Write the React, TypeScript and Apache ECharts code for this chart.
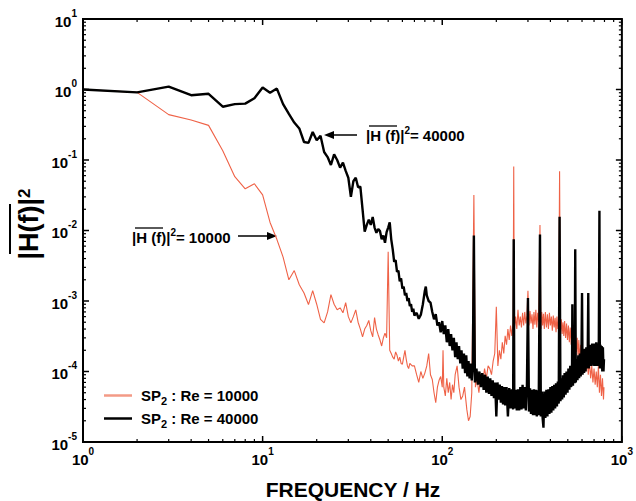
import React, { useEffect, useRef } from "react";
import * as echarts from "echarts";

// Spectrum |H(f)|^2 for Re = 10000 (red) : [frequency Hz, value]
const re10000: [number, number][] = [
  [1, 1.0], [2, 0.91], [3, 0.44], [4, 0.37], [5, 0.31], [6, 0.135], [7, 0.058], [8, 0.039], [9, 0.046], [10, 0.032],
  [11, 0.013], [12, 0.0075], [13, 0.0042], [14, 0.002], [15, 0.0027], [16, 0.0017], [17, 0.0013], [18, 0.00089], [19, 0.0014], [20, 0.0009],
  [21, 0.00055], [22, 0.00049], [23, 0.0007], [24, 0.00123], [25, 0.0009], [26, 0.00075], [27, 0.0008], [28, 0.00068], [29, 0.00095], [30, 0.0006],
  [31, 0.00049], [32, 0.0006], [33, 0.00075], [34, 0.0005], [35, 0.0004], [36, 0.00031], [37, 0.0004], [38, 0.00045], [39, 0.00053], [40, 0.00038],
  [41, 0.00031], [42, 0.00058], [43, 0.0004], [44, 0.00033], [45, 0.00028], [46, 0.00023], [47, 0.0003], [48, 0.00035], [49, 0.0003], [50, 0.005],
  [51, 0.0002], [52, 0.00018], [53, 0.00016], [54, 0.00015], [55, 0.00019], [56, 0.00017], [57, 0.00014], [58, 0.00016], [59, 0.00013], [60, 0.000127],
  [61, 0.00016], [62, 0.0002], [63, 0.00015], [64, 0.00012], [65, 0.00011], [66, 0.00013], [68, 0.00012], [70, 0.00012], [72, 0.00009], [74, 0.00007],
  [76, 0.0001], [78, 0.00008], [80, 0.000095], [82, 0.00012], [84, 0.00018], [86, 0.00009], [88, 0.000077], [90, 0.00005], [92, 0.000036], [94, 0.00006],
  [96, 0.000075], [98, 0.000085], [100, 0.00006], [101, 0.0002], [102, 0.00006], [104, 0.000045], [106, 0.00008], [108, 0.00005], [110, 0.00007], [112, 0.00004],
  [114, 0.000065], [116, 0.00005], [118, 0.00009], [121, 0.00012], [124, 0.00006], [127, 0.00004], [130, 0.000045], [133, 0.00006], [137, 0.000029], [140, 0.00002],
  [143, 0.000023], [146, 0.00005], [150, 0.032], [153, 0.00006], [156, 0.00008], [160, 0.00005], [164, 0.00009], [168, 0.00007], [172, 0.00011], [176, 0.00008],
  [180, 0.00012], [184, 0.00011], [188, 0.00009], [192, 0.00014], [196, 0.00018], [200, 0.00083], [204, 0.00012], [208, 0.0002], [212, 0.00015], [216, 0.00026],
  [220, 0.00018], [224, 0.00032], [228, 0.00024], [232, 0.0004], [236, 0.00028], [240, 0.00045], [244, 0.00032], [248, 0.0005], [250, 0.081], [252, 0.00038],
  [256, 0.0006], [260, 0.0004], [264, 0.00075], [268, 0.00045], [272, 0.0006], [276, 0.00042], [280, 0.00068], [284, 0.00045], [288, 0.0007], [292, 0.00048],
  [296, 0.00062], [300, 0.0014], [304, 0.00045], [308, 0.00072], [312, 0.00048], [316, 0.00065], [320, 0.0004], [324, 0.0007], [328, 0.00046], [332, 0.00075],
  [336, 0.00042], [340, 0.00068], [344, 0.0005], [350, 0.012], [354, 0.0004], [358, 0.0007], [362, 0.00045], [366, 0.00066], [370, 0.0004], [375, 0.0007],
  [380, 0.00042], [385, 0.00065], [390, 0.0004], [395, 0.00068], [400, 0.00045], [405, 0.0006], [410, 0.00038], [415, 0.00062], [420, 0.00042], [425, 0.00058],
  [430, 0.00036], [435, 0.0006], [440, 0.0004], [445, 0.00055], [450, 0.069], [455, 0.00035], [460, 0.00055], [465, 0.00034], [470, 0.0005], [475, 0.00032],
  [480, 0.00052], [486, 0.0003], [492, 0.00048], [498, 0.00028], [504, 0.00045], [510, 0.00026], [516, 0.00042], [522, 0.00024], [528, 0.0004], [534, 0.00022],
  [540, 0.00036], [546, 0.0002], [552, 0.00033], [558, 0.00019], [564, 0.0003], [570, 0.00017], [576, 0.00028], [582, 0.00015], [590, 0.00024], [598, 0.00013],
  [606, 0.0002], [614, 0.00011], [622, 0.00018], [630, 0.0001], [640, 0.00016], [650, 0.00009], [660, 0.00014], [670, 0.00008], [680, 0.00012], [690, 0.00007],
  [700, 0.00011], [710, 0.000065], [720, 0.0001], [730, 0.00006], [740, 0.00012], [750, 0.00005], [760, 0.00009], [770, 0.000045], [780, 0.00008], [790, 0.00004],
  [795, 0.00006],
];

// Spectrum |H(f)|^2 for Re = 40000 (black) : [frequency Hz, value]
const re40000: [number, number][] = [
  [1, 1.0], [2, 0.91], [3, 1.1], [4, 0.83], [5, 0.87], [6, 0.57], [7, 0.62], [8, 0.63], [9, 0.75], [10, 1.07],
  [11, 0.9], [12, 1.03], [13, 0.62], [14, 0.45], [15, 0.34], [16, 0.28], [17, 0.18], [18, 0.175], [19, 0.25], [20, 0.19],
  [21, 0.22], [22, 0.13], [23, 0.11], [24, 0.085], [25, 0.12], [26, 0.1], [27, 0.078], [28, 0.092], [29, 0.07], [30, 0.056],
  [31, 0.03], [32, 0.05], [33, 0.056], [34, 0.041], [35, 0.042], [36, 0.02], [37, 0.0096], [38, 0.012], [39, 0.0143], [40, 0.012],
  [41, 0.0155], [42, 0.011], [43, 0.0093], [44, 0.0105], [45, 0.0098], [46, 0.0075], [47, 0.0085], [48, 0.0067], [49, 0.0095], [50, 0.011],
  [51, 0.013], [52, 0.0075], [53, 0.0054], [54, 0.0036], [55, 0.0038], [56, 0.0026], [57, 0.0027], [58, 0.0019], [59, 0.0021], [60, 0.0015],
  [61, 0.0016], [62, 0.0012], [63, 0.0013], [64, 0.001], [65, 0.0011], [66, 0.00085], [67, 0.0009], [68, 0.0007], [69, 0.00078], [70, 0.00062],
  [72, 0.00068], [74, 0.00056], [76, 0.00064], [78, 0.0009], [80, 0.0014], [81, 0.0016], [82, 0.0012], [84, 0.001], [86, 0.00095], [88, 0.0007],
  [90, 0.00055], [92, 0.00065], [94, 0.00045], [96, 0.0005], [98, 0.00036], [100, 0.00052], [102, 0.00034], [104, 0.00045], [106, 0.00026], [108, 0.0004],
  [110, 0.00023], [112, 0.00034], [114, 0.0002], [116, 0.0003], [118, 0.00016], [120, 0.00026], [122, 0.00015], [124, 0.00023], [126, 0.00013], [128, 0.0002],
  [130, 0.00011], [132, 0.00018], [134, 0.000095], [136, 0.00017], [138, 0.000085], [140, 0.00014], [142, 0.00008], [144, 0.00013], [146, 0.000075], [148, 0.00012],
  [150, 0.0085], [152, 0.00007], [155, 0.00011], [158, 0.000065], [161, 0.0001], [164, 0.00006], [167, 0.000095], [170, 0.000055], [173, 0.00009], [176, 0.00005],
  [179, 0.000085], [182, 0.000048], [185, 0.00008], [188, 0.000045], [191, 0.000075], [194, 0.000042], [197, 0.00007], [200, 0.000023], [203, 0.00007], [206, 0.00004],
  [209, 0.000065], [212, 0.000036], [215, 0.000062], [218, 0.000034], [221, 0.00006], [224, 0.000033], [228, 0.00006], [232, 0.000023], [236, 0.000058], [240, 0.00003],
  [244, 0.000056], [248, 0.000029], [250, 0.0075], [252, 0.00003], [256, 0.000055], [260, 0.000028], [264, 0.000056], [268, 0.000028], [272, 0.00006], [276, 0.000029],
  [280, 0.000065], [284, 0.00003], [288, 0.00006], [292, 0.000028], [296, 0.000062], [300, 0.0011], [304, 0.000027], [308, 0.000058], [312, 0.000025], [316, 0.000055],
  [320, 0.000024], [324, 0.000056], [328, 0.000024], [332, 0.000055], [336, 0.000023], [340, 0.000054], [344, 0.000024], [350, 0.0088], [354, 0.000023], [358, 0.000052],
  [362, 0.000022], [366, 0.000016], [370, 0.000052], [375, 0.000022], [380, 0.000055], [385, 0.000023], [390, 0.000056], [395, 0.000025], [400, 0.00006], [405, 0.000026],
  [410, 0.000062], [415, 0.000028], [420, 0.000065], [425, 0.00003], [430, 0.000068], [435, 0.000032], [440, 0.000072], [445, 0.000035], [450, 0.0157], [455, 0.000038],
  [460, 0.00008], [465, 0.00004], [470, 0.000088], [475, 0.000043], [480, 0.000095], [486, 0.000047], [492, 0.0001], [498, 0.00005], [504, 0.00011], [510, 0.000055],
  [516, 0.00012], [522, 0.00006], [528, 0.00013], [530, 0.0009], [534, 0.000063], [540, 0.00014], [546, 0.000068], [550, 0.0054], [554, 0.00007], [560, 0.00015],
  [566, 0.000075], [572, 0.00017], [578, 0.00008], [584, 0.00018], [590, 0.000085], [596, 0.0002], [600, 0.0013], [604, 0.00009], [610, 0.0002], [616, 0.000095],
  [622, 0.00021], [628, 0.0001], [634, 0.00022], [640, 0.00011], [646, 0.00023], [650, 0.0013], [654, 0.00011], [660, 0.00024], [666, 0.00012], [672, 0.00024],
  [678, 0.00012], [684, 0.00025], [690, 0.000125], [696, 0.00025], [702, 0.00012], [708, 0.00025], [714, 0.00012], [720, 0.00026], [726, 0.00012], [732, 0.00025],
  [738, 0.00012], [744, 0.00024], [750, 0.019], [754, 0.00011], [760, 0.00024], [766, 0.00011], [772, 0.00023], [778, 0.0001], [784, 0.00022], [790, 0.0001],
  [795, 0.00015],
];

const xMajorTicks = [1, 10, 100, 1000];
const xMinorTicks = [2, 3, 4, 5, 6, 7, 8, 9, 20, 30, 40, 50, 60, 70, 80, 90, 200, 300, 400, 500, 600, 700, 800, 900];
const yMajorTicks = [1e-5, 1e-4, 1e-3, 1e-2, 1e-1, 1, 10];
const yMinorTicks = [
  2e-5, 3e-5, 4e-5, 5e-5, 6e-5, 7e-5, 8e-5, 9e-5,
  2e-4, 3e-4, 4e-4, 5e-4, 6e-4, 7e-4, 8e-4, 9e-4,
  2e-3, 3e-3, 4e-3, 5e-3, 6e-3, 7e-3, 8e-3, 9e-3,
  2e-2, 3e-2, 4e-2, 5e-2, 6e-2, 7e-2, 8e-2, 9e-2,
  0.2, 0.3, 0.4, 0.5, 0.6, 0.7, 0.8, 0.9,
  2, 3, 4, 5, 6, 7, 8, 9,
];

const NAME_LOW = "SP2 : Re = 10000";
const NAME_HIGH = "SP2 : Re = 40000";
const FONT = "'Liberation Sans', Arial, sans-serif";
const RED = "#ef6247";

function tickSeries(vals: number[], axis: "x" | "y", len: number, width: number) {
  return {
    type: "custom",
    silent: true,
    clip: false,
    z: 10,
    data: vals.map((v) => (axis === "x" ? [v, 1] : [1, v])),
    renderItem: (params: any, api: any) => {
      const cs = params.coordSys;
      const p = api.coord([api.value(0), api.value(1)]);
      const style = { stroke: "#000", lineWidth: width };
      if (axis === "x") {
        const x = p[0];
        const yb = cs.y + cs.height;
        return {
          type: "group",
          children: [
            { type: "line", shape: { x1: x, y1: yb, x2: x, y2: yb - len }, style },
            { type: "line", shape: { x1: x, y1: cs.y, x2: x, y2: cs.y + len }, style },
          ],
        };
      }
      const y = p[1];
      const xr = cs.x + cs.width;
      return {
        type: "group",
        children: [
          { type: "line", shape: { x1: cs.x, y1: y, x2: cs.x + len, y2: y }, style },
          { type: "line", shape: { x1: xr, y1: y, x2: xr - len, y2: y }, style },
        ],
      };
    },
  };
}

const expLabel = (v: number) => {
  const e = Math.round(Math.log10(v));
  return `{b|10}{s|${e}}`;
};

const labelRich = {
  b: { fontFamily: FONT, fontSize: 15, fontWeight: "bold", color: "#000", padding: [4, 0, 0, 0] },
  s: { fontFamily: FONT, fontSize: 10, fontWeight: "bold", color: "#000", padding: [0, 0, 12, 0] },
};

export default function App() {
  const ref = useRef<HTMLDivElement>(null);
  useEffect(() => {
    if (!ref.current) return;
    const chart = echarts.init(ref.current, undefined, { renderer: "svg" });
    const annRich = {
      a: { fontFamily: FONT, fontSize: 15, fontWeight: "bold", color: "#000" },
      s: { fontFamily: FONT, fontSize: 10, fontWeight: "bold", color: "#000", padding: [0, 0, 10, 0] },
    };
    chart.setOption({
      animation: false,
      backgroundColor: "#ffffff",
      grid: { left: 83, right: 11, top: 19, bottom: 59, show: true, borderColor: "#000", borderWidth: 2, backgroundColor: "transparent" },
      xAxis: {
        type: "log",
        logBase: 10,
        min: 1,
        max: 1000,
        splitNumber: 3,
        axisLine: { show: false },
        axisTick: { show: false },
        splitLine: { show: false },
        axisLabel: { formatter: expLabel, rich: labelRich, margin: 4, showMinLabel: true, showMaxLabel: true, hideOverlap: false },
      },
      yAxis: {
        type: "log",
        logBase: 10,
        min: 1e-5,
        max: 10,
        splitNumber: 6,
        axisLine: { show: false },
        axisTick: { show: false },
        splitLine: { show: false },
        axisLabel: { formatter: expLabel, rich: labelRich, margin: 6, showMinLabel: true, showMaxLabel: true, hideOverlap: false },
      },
      legend: {
        data: [
          { name: NAME_LOW, icon: "rect", itemStyle: { color: "#f39a86" } },
          { name: NAME_HIGH, icon: "rect", itemStyle: { color: "#000" } },
        ],
        left: 99,
        top: 383,
        orient: "vertical",
        itemGap: 5,
        itemWidth: 28,
        itemHeight: 2.5,
        selectedMode: false,
        formatter: (name: string) =>
          name === NAME_LOW ? "{a|SP}{sub|2}{a| : Re = 10000}" : "{a|SP}{sub|2}{a| : Re = 40000}",
        textStyle: {
          padding: [0, 0, 0, 4],
          rich: {
            a: { fontFamily: FONT, fontSize: 15, fontWeight: "bold", color: "#000" },
            sub: { fontFamily: FONT, fontSize: 11, fontWeight: "bold", color: "#000", padding: [10, 0, 0, 0] },
          },
        },
      },
      series: [
        {
          type: "line",
          name: NAME_LOW,
          data: re10000,
          symbol: "none",
          showSymbol: false,
          z: 2,
          lineStyle: { color: RED, width: 1.1 },
          itemStyle: { color: RED },
          emphasis: { disabled: true },
        },
        {
          type: "line",
          name: NAME_HIGH,
          data: re40000,
          symbol: "none",
          showSymbol: false,
          z: 3,
          lineStyle: { color: "#000", width: 2.4 },
          itemStyle: { color: "#000" },
          emphasis: { disabled: true },
        },
        tickSeries(xMajorTicks, "x", 6, 1.5),
        tickSeries(xMinorTicks, "x", 3, 1.2),
        tickSeries(yMajorTicks, "y", 6, 1.5),
        tickSeries(yMinorTicks, "y", 3, 1.2),
      ],
      graphic: [
        // Y axis title |H(f)|^2 (rotated)
        {
          type: "text",
          x: 29,
          y: 224,
          rotation: Math.PI / 2,
          style: {
            text: "{m||H(f)|}{s|2}",
            align: "center",
            verticalAlign: "middle",
            rich: {
              m: { fontFamily: FONT, fontSize: 27, fontWeight: "bold", color: "#000" },
              s: { fontFamily: FONT, fontSize: 17, fontWeight: "bold", color: "#000", padding: [0, 0, 10, 0] },
            },
          },
        },
        { type: "line", shape: { x1: 10, y1: 204, x2: 10, y2: 254 }, style: { stroke: "#000", lineWidth: 2 } },
        // X axis title
        {
          type: "text",
          x: 353,
          y: 489,
          style: { text: "FREQUENCY / Hz", align: "center", verticalAlign: "middle", fontFamily: FONT, fontSize: 21, fontWeight: "bold", fill: "#000" },
        },
        // Annotation Re=40000
        {
          type: "text",
          x: 366,
          y: 135,
          style: { text: "{a||H (f)|}{s|2}{a|= 40000}", align: "left", verticalAlign: "middle", rich: annRich },
        },
        { type: "line", shape: { x1: 369, y1: 126, x2: 397, y2: 126 }, style: { stroke: "#000", lineWidth: 1.3 } },
        { type: "line", shape: { x1: 357, y1: 135, x2: 331, y2: 135 }, style: { stroke: "#000", lineWidth: 1.5 } },
        { type: "polygon", shape: { points: [[324, 135], [334, 131], [334, 139]] }, style: { fill: "#000" } },
        // Annotation Re=10000
        {
          type: "text",
          x: 132,
          y: 237,
          style: { text: "{a||H (f)|}{s|2}{a|= 10000}", align: "left", verticalAlign: "middle", rich: annRich },
        },
        { type: "line", shape: { x1: 135, y1: 228, x2: 163, y2: 228 }, style: { stroke: "#000", lineWidth: 1.3 } },
        { type: "line", shape: { x1: 238, y1: 236, x2: 270, y2: 236 }, style: { stroke: "#000", lineWidth: 1.5 } },
        { type: "polygon", shape: { points: [[277, 236], [267, 232], [267, 240]] }, style: { fill: "#000" } },
      ],
    });
    return () => chart.dispose();
  }, []);
  return <div ref={ref} style={{ position: "fixed", left: 0, top: 0, width: 636, height: 501, background: "#fff" }} />;
}
